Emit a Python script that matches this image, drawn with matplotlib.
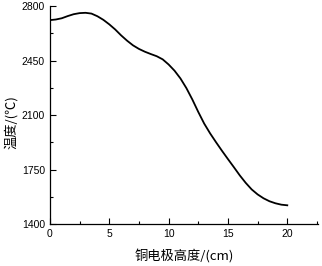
import matplotlib
matplotlib.use("Agg")
import matplotlib.pyplot as plt
from matplotlib.ticker import MultipleLocator

# 铜电极高度 (cm) vs 温度 (℃), every 0.5 cm
altezza = [0, 0.5, 1, 1.5, 2, 2.5, 3, 3.5, 4, 4.5, 5, 5.5, 6, 6.5, 7, 7.5, 8, 8.5, 9, 9.5,
           10, 10.5, 11, 11.5, 12, 12.5, 13, 13.5, 14, 14.5, 15, 15.5, 16, 16.5, 17, 17.5,
           18, 18.5, 19, 19.5, 20]
temperatura = [2710, 2714, 2722, 2736, 2748, 2755, 2757, 2752, 2735, 2712, 2683, 2650,
               2612, 2578, 2548, 2525, 2507, 2492, 2478, 2458, 2425, 2385, 2335, 2273,
               2200, 2120, 2045, 1982, 1925, 1870, 1817, 1765, 1712, 1664, 1622, 1590,
               1565, 1546, 1533, 1524, 1520]

plt.rcParams['font.family'] = ['Liberation Sans', 'Noto Sans CJK SC']

fig = plt.figure(figsize=(3.22, 2.66), dpi=100)
ax = fig.add_axes([0.155, 0.158, 0.833, 0.819])

ax.plot(altezza, temperatura, '-', color='black', linewidth=1.3)

ax.set_xlim(0, 22.6)
ax.set_ylim(1400, 2800)
ax.xaxis.set_major_locator(MultipleLocator(5))
ax.xaxis.set_minor_locator(MultipleLocator(2.5))
ax.yaxis.set_major_locator(MultipleLocator(350))
ax.yaxis.set_minor_locator(MultipleLocator(175))
ax.tick_params(which='both', direction='in', labelsize=7.5, width=0.8)
ax.tick_params(which='major', length=4)
ax.tick_params(which='minor', length=2.5)

for s in ['top', 'right']:
    ax.spines[s].set_visible(False)
for s in ['left', 'bottom']:
    ax.spines[s].set_linewidth(0.9)

ax.set_xlabel('铜电极高度/(cm)', fontsize=9.5, family=['Noto Sans CJK SC'], labelpad=8)
ax.set_ylabel('温度/(℃)', fontsize=9.5, family=['Noto Sans CJK SC'])
ax.yaxis.set_label_coords(-0.12, 0.47)

fig.savefig('out.png', dpi=100)
